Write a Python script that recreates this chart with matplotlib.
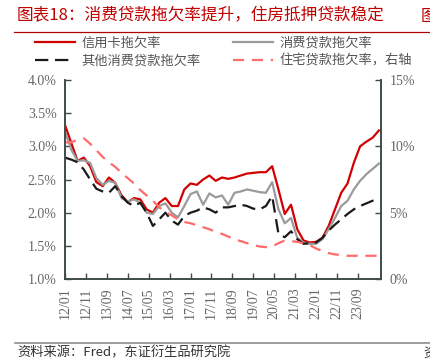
import numpy as np
import matplotlib
matplotlib.use("Agg")
import matplotlib.pyplot as plt

plt.rcParams['font.family'] = ['Noto Sans CJK SC', 'DejaVu Sans']

# quarterly observations, months since 2012-01
months = np.arange(0, 151, 3)

credit_card = [3.32, 3.05, 2.78, 2.83, 2.70, 2.46, 2.40, 2.53, 2.45, 2.26, 2.16, 2.22,
               2.20, 2.05, 2.00, 2.15, 2.22, 2.10, 2.10, 2.35, 2.44, 2.42, 2.50, 2.56,
               2.48, 2.53, 2.51, 2.53, 2.56, 2.59, 2.60, 2.61, 2.61, 2.70, 2.35, 1.98,
               2.12, 1.75, 1.58, 1.55, 1.56, 1.62, 1.80, 2.05, 2.30, 2.44, 2.75, 3.00,
               3.07, 3.13, 3.24]
consumer = [3.22, 2.95, 2.78, 2.79, 2.75, 2.52, 2.42, 2.48, 2.45, 2.22, 2.17, 2.20,
            2.15, 2.00, 1.98, 2.10, 2.14, 2.00, 1.93, 2.10, 2.28, 2.32, 2.12, 2.29,
            2.23, 2.26, 2.12, 2.30, 2.32, 2.35, 2.33, 2.31, 2.30, 2.46, 2.05, 1.84,
            1.92, 1.62, 1.55, 1.53, 1.53, 1.60, 1.75, 1.92, 2.10, 2.18, 2.35, 2.48,
            2.58, 2.66, 2.74]
other_consumer = [2.83, 2.80, 2.76, 2.65, 2.50, 2.36, 2.32, 2.30, 2.40, 2.25, 2.15, 2.10,
                  2.15, 2.00, 1.80, 1.90, 2.00, 1.88, 1.82, 1.95, 2.00, 2.03, 2.08, 2.05,
                  2.00, 2.08, 2.08, 2.10, 2.12, 2.10, 2.06, 2.05, 2.10, 2.25, 1.68, 1.63,
                  1.72, 1.60, 1.53, 1.54, 1.55, 1.62, 1.73, 1.82, 1.90, 1.98, 2.05, 2.10,
                  2.14, 2.18, 2.21]
residential = [10.3, 10.3, 10.5, 10.6, 10.2, 9.7, 9.2, 8.8, 8.45, 8.0, 7.6, 7.2,
               6.7, 6.3, 5.9, 5.4, 5.05, 4.8, 4.5, 4.3, 4.2, 4.05, 3.9, 3.75,
               3.55, 3.4, 3.2, 3.0, 2.85, 2.7, 2.55, 2.45, 2.4, 2.45, 2.7, 2.9,
               2.85, 2.8, 2.7, 2.55, 2.3, 2.1, 1.95, 1.85, 1.8, 1.75, 1.75, 1.75,
               1.75, 1.75, 1.75]

tick_months = list(range(0, 141, 10))
tick_labels = ['12/01', '12/11', '13/09', '14/07', '15/05', '16/03', '17/01', '17/11',
               '18/09', '19/07', '20/05', '21/03', '22/01', '22/11', '23/09']

spine_color = '#3f4b4b'
label_color = '#666666'
serif = 'Liberation Serif'

fig = plt.figure(figsize=(4.3, 3.64), dpi=100)
ax = fig.add_axes([65 / 430, 1 - 279 / 364, 316 / 430, 199 / 364])
ax2 = ax.twinx()

l1, = ax.plot(months, credit_card, color='#d40000', lw=1.6)
l2, = ax.plot(months, consumer, color='#9a9a9a', lw=1.6)
l3, = ax.plot(months, other_consumer, color='#1a1a1a', lw=1.6, dashes=(6, 3))
l4, = ax2.plot(months, residential, color='#ff6b6b', lw=1.6, dashes=(5, 3.5))

ax.set_xlim(0, 151)
ax.set_ylim(1.0, 4.0)
ax2.set_ylim(0, 15)
ax.set_yticks(np.arange(1.0, 4.01, 0.5))
ax.set_yticklabels(['%.1f%%' % v for v in np.arange(1.0, 4.01, 0.5)])
ax2.set_yticks([0, 5, 10, 15])
ax2.set_yticklabels(['0%', '5%', '10%', '15%'])
ax.set_xticks(tick_months)
ax.set_xticklabels(tick_labels, rotation=90)

for a in (ax, ax2):
    a.spines['top'].set_visible(False)
    for s in ('left', 'right', 'bottom'):
        a.spines[s].set_color(spine_color)
        a.spines[s].set_linewidth(1.2)
    a.tick_params(direction='in', length=4, width=1, color=spine_color,
                  labelcolor=label_color, labelsize=10, pad=6)
    for t in a.get_xticklabels() + a.get_yticklabels():
        t.set_fontfamily(serif)

# ncol=2 fills by column, so order is row1-left, row2-left, row1-right, row2-right
fig.legend([l1, l3, l2, l4],
           ['信用卡拖欠率', '其他消费贷款拖欠率', '消费贷款拖欠率', '住宅贷款拖欠率，右轴'],
           loc='upper left', bbox_to_anchor=(35 / 430, 1 - 37 / 364), ncol=2,
           frameon=False, fontsize=9.5, handlelength=3.0, handletextpad=0.5,
           columnspacing=2.5, labelspacing=0.35, labelcolor='#555555',
           borderpad=0, borderaxespad=0)

fig.text(17 / 430, 1 - 16 / 364, '图表18：消费贷款拖欠率提升，住房抵押贷款稳定',
         color='#c00000', fontsize=12, fontweight='medium', va='center', ha='left')
fig.text(421 / 430, 1 - 16 / 364, '图', color='#c00000', fontsize=12,
         fontweight='medium', va='center', ha='left')
fig.add_artist(plt.Line2D([14 / 430, 1], [1 - 32 / 364] * 2, color='#b00000', lw=0.9))
fig.add_artist(plt.Line2D([15 / 430, 1], [1 - 343 / 364] * 2, color='#8c8c8c', lw=1.2))
fig.text(17 / 430, 1 - 353 / 364, '资料来源：Fred，东证衍生品研究院',
         color='#333333', fontsize=9.5, va='center', ha='left')
fig.text(423 / 430, 1 - 353 / 364, '资', color='#333333', fontsize=9.5,
         va='center', ha='left')

fig.savefig('out.png', dpi=100)
